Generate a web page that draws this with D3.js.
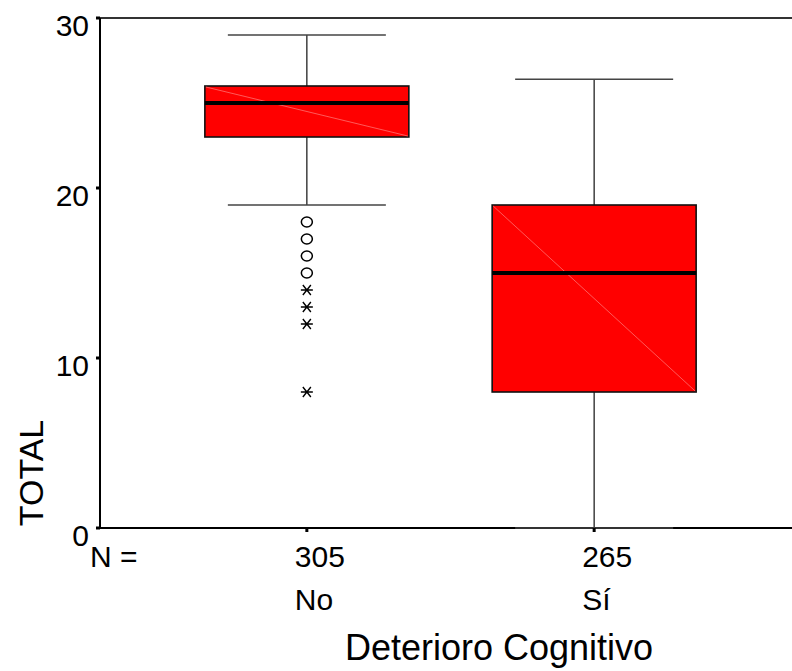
<!DOCTYPE html>
<html>
<head>
<meta charset="utf-8">
<script src="https://cdn.jsdelivr.net/npm/d3@7"></script>
<style>
    body{margin:0;background:#fff;}
    text{font-family:"Liberation Sans",Arial,sans-serif;fill:#000;}
</style>
</head>
<body>
<script>
/* datos */
const grupos = ["No", "Sí"];
const nCasos = [305, 265];
const minimos = [19, 0];
const cuartil1 = [23, 8];
const medianas = [25, 15];
const cuartil3 = [26, 19];
const maximos = [29, 26.4];
const atipicos = [[18, 17, 16, 15], []];
const extremos = [[14, 13, 12, 8], []];
const ticksY = [0, 10, 20, 30];

const ancho = 792, alto = 671;
const izq = 100, der = 792, arriba = 18, abajo = 528;

const svg = d3.select("body").append("svg").attr("width", ancho).attr("height", alto);

let y = d3.scaleLinear().domain([0, 30]).range([abajo, arriba]);
let x = d3.scalePoint().domain(grupos).range([izq, 801]).padding(0.72);
let anchoCaja = x.step() * 0.71;
let anchoTope = x.step() * 0.55;

/* marco */
svg.append("line").attr("x1", izq).attr("x2", der).attr("y1", arriba).attr("y2", arriba)
    .attr("stroke", "#333").attr("stroke-width", 2);
svg.append("line").attr("x1", izq).attr("x2", izq).attr("y1", arriba).attr("y2", abajo)
    .attr("stroke", "#000").attr("stroke-width", 2);
svg.append("line").attr("x1", izq - 3).attr("x2", der).attr("y1", abajo).attr("y2", abajo)
    .attr("stroke", "#000").attr("stroke-width", 2);

/* eje y */
ticksY.forEach(t => {
    svg.append("line").attr("x1", izq - 4).attr("x2", izq).attr("y1", y(t)).attr("y2", y(t))
        .attr("stroke", "#000").attr("stroke-width", 3);
    svg.append("text").attr("x", izq - 11).attr("y", y(t) + 18)
        .attr("text-anchor", "end").style("font-size", "30px").text(t);
});

svg.append("text").attr("transform", "translate(43," + ((arriba + abajo) / 2 + 200) + ") rotate(-90)")
    .attr("text-anchor", "middle").style("font-size", "34px").text("TOTAL");

/* cajas */
grupos.forEach((g, i) => {
    let cx = x(g);
    let grupo = svg.append("g");

    // bigotes
    grupo.append("line").attr("x1", cx).attr("x2", cx).attr("y1", y(maximos[i])).attr("y2", y(cuartil3[i]))
        .attr("stroke", "#222").attr("stroke-width", 1.3);
    grupo.append("line").attr("x1", cx).attr("x2", cx).attr("y1", y(cuartil1[i])).attr("y2", y(minimos[i]))
        .attr("stroke", "#222").attr("stroke-width", 1.3);
    grupo.append("line").attr("x1", cx - anchoTope / 2).attr("x2", cx + anchoTope / 2)
        .attr("y1", y(maximos[i])).attr("y2", y(maximos[i])).attr("stroke", "#444").attr("stroke-width", 1.6);
    grupo.append("line").attr("x1", cx - anchoTope / 2).attr("x2", cx + anchoTope / 2)
        .attr("y1", y(minimos[i])).attr("y2", y(minimos[i])).attr("stroke", "#444").attr("stroke-width", 1.6);

    // caja
    grupo.append("rect").attr("x", cx - anchoCaja / 2).attr("y", y(cuartil3[i]))
        .attr("width", anchoCaja).attr("height", y(cuartil1[i]) - y(cuartil3[i]))
        .attr("fill", "#ff0000").attr("stroke", "#111").attr("stroke-width", 1.6);
    // linea diagonal clara que deja el relleno
    grupo.append("line").attr("x1", cx - anchoCaja / 2 + 1).attr("y1", y(cuartil3[i]) + 1)
        .attr("x2", cx + anchoCaja / 2 - 1).attr("y2", y(cuartil1[i]) - 1)
        .attr("stroke", "#ff7070").attr("stroke-width", 0.8);
    grupo.append("line").attr("x1", cx - anchoCaja / 2).attr("x2", cx + anchoCaja / 2)
        .attr("y1", y(medianas[i])).attr("y2", y(medianas[i])).attr("stroke", "#000").attr("stroke-width", 4);

    // atipicos
    atipicos[i].forEach(v => {
        grupo.append("ellipse").attr("cx", cx).attr("cy", y(v)).attr("rx", 5.5).attr("ry", 5)
            .attr("fill", "none").attr("stroke", "#000").attr("stroke-width", 1.5);
    });
    // extremos (asterisco)
    extremos[i].forEach(v => {
        let cy = y(v);
        grupo.append("path")
            .attr("d", "M" + (cx - 6) + "," + cy + "H" + (cx + 6) +
                "M" + (cx - 4) + "," + (cy - 5) + "L" + (cx + 4) + "," + (cy + 5) +
                "M" + (cx - 4) + "," + (cy + 5) + "L" + (cx + 4) + "," + (cy - 5))
            .attr("stroke", "#000").attr("stroke-width", 1.4).attr("fill", "none");
    });

    // tick del eje x y etiquetas
    svg.append("line").attr("x1", cx).attr("x2", cx).attr("y1", abajo).attr("y2", abajo + 4)
        .attr("stroke", "#000").attr("stroke-width", 3);
    svg.append("text").attr("x", cx - 12).attr("y", 567).style("font-size", "30px").text(nCasos[i]);
    svg.append("text").attr("x", cx - 12).attr("y", 610).style("font-size", "30px").text(g);
});

svg.append("text").attr("x", 90).attr("y", 567).style("font-size", "30px").text("N =");

svg.append("text").attr("x", 499).attr("y", 660).attr("text-anchor", "middle")
    .style("font-size", "36px").text("Deterioro Cognitivo");
</script>
</body>
</html>
